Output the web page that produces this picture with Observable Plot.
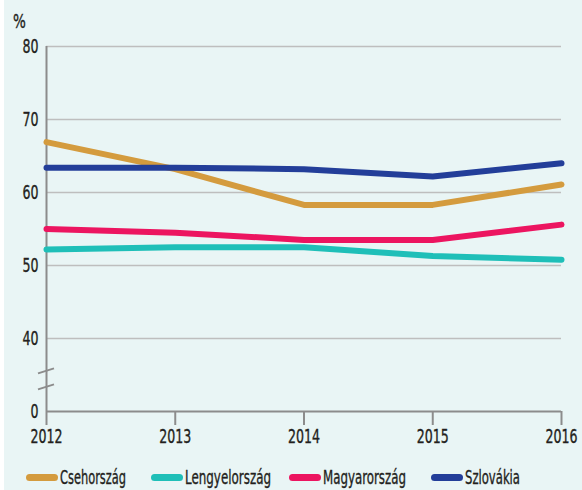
<!DOCTYPE html>
<html><head><meta charset="utf-8">
<script src="https://cdn.jsdelivr.net/npm/d3@7"></script>
<script src="https://cdn.jsdelivr.net/npm/@observablehq/plot@0.6"></script>
<style>
html,body{margin:0;padding:0;background:#fff;}
#wrap{position:absolute;left:4px;top:0;width:578px;height:490px;background:#E9F5F5;font-family:"DejaVu Sans Condensed","Liberation Sans Narrow",sans-serif;color:#231f20;}
#unit{position:absolute;left:9px;top:9px;font-size:20px;transform:scaleX(0.75);transform-origin:0 50%;-webkit-text-stroke:0.35px #231f20;}
#chart{position:absolute;left:0;top:0;}
#chart svg g[aria-label$="tick label"] text{stroke:#231f20;stroke-width:0.35px;}
#legend{position:absolute;left:0;top:464px;width:578px;height:26px;font-size:20px;}
.item{position:absolute;top:0;display:flex;align-items:center;height:26px;white-space:nowrap;}
.sw{width:32px;height:7px;border-radius:3.5px;margin-right:2px;flex:none;}
.lt{display:inline-block;transform-origin:0 50%;-webkit-text-stroke:0.35px #231f20;}
</style></head>
<body>
<div id="wrap"><div id="chart"></div><div id="unit">%</div><div id="legend"></div></div>
<script>
const years = [2012, 2013, 2014, 2015, 2016];
const seriesNames = ["Csehország", "Lengyelország", "Magyarország", "Szlovákia"];
const cseh = [66.9, 63.2, 58.3, 58.3, 61.1];
const lengyel = [52.2, 52.5, 52.5, 51.3, 50.8];
const magyar = [55.0, 54.5, 53.5, 53.5, 55.6];
const szlovak = [63.4, 63.4, 63.2, 62.2, 64.0];
const colors = ["#D49B3E", "#1FBFB8", "#EC1560", "#233E99"];
const yTicks = [30, 40, 50, 60, 70, 80];      // 30 is the broken-axis position shown as "0"
const yTickLabels = ["0", "40", "50", "60", "70", "80"];
const gridVals = [40, 50, 60, 70, 80];
const breakVals = [35.5, 33.3];
const legendLeft = [22, 147, 285, 427];
const legendTextWidth = [66, 86, 83, 55];

const values = [cseh, lengyel, magyar, szlovak];
const data = [];
seriesNames.forEach((s, i) => years.forEach((y, j) => data.push({series: s, year: y, value: values[i][j]})));

const axisGray = "#8C8C8C";
const breakMark = (index, scales, values, dims) => {
  const g = d3.create("svg:g");
  const x0 = scales.x(years[0]);
  for (const v of breakVals) {
    const y = scales.y(v);
    g.append("line").attr("x1", x0 - 8).attr("y1", y + 2.5).attr("x2", x0 + 8).attr("y2", y - 2.5)
      .attr("stroke", axisGray).attr("stroke-width", 2);
  }
  return g.node();
};

const chart = Plot.plot({
  width: 578, height: 452,
  marginLeft: 42, marginRight: 21, marginTop: 46, marginBottom: 41,
  style: {background: "transparent", fontFamily: "'DejaVu Sans Condensed','Liberation Sans Narrow',sans-serif", fontSize: "20px", color: "#231f20"},
  x: {type: "linear", domain: [years[0], years[years.length - 1]], label: null},
  y: {domain: [30, 80], label: null},
  color: {domain: seriesNames, range: colors},
  marks: [
    Plot.ruleY(gridVals, {y: d => d, x1: () => years[0], x2: () => years[years.length - 1], stroke: "#BEBEBE", strokeWidth: 1.5}),
    Plot.ruleX([years[0]], {x: d => d, y1: () => 30, y2: () => 80, stroke: axisGray, strokeWidth: 2}),
    Plot.ruleY([30], {y: d => d, x1: () => years[0], x2: () => years[years.length - 1], stroke: axisGray, strokeWidth: 2}),
    Plot.axisX({ticks: years, tickFormat: d => String(d), tickSize: 14, tickPadding: 3, stroke: axisGray, strokeWidth: 2, fontSize: 20, label: null}),
    Plot.axisY({ticks: yTicks, tickFormat: d => yTickLabels[yTicks.indexOf(d)], tickSize: 0, tickPadding: 8, fontSize: 20, label: null}),
    breakMark,
    Plot.line(data, {x: "year", y: "value", z: "series", stroke: "series", strokeWidth: 6, strokeLinecap: "round", strokeLinejoin: "round"})
  ]
});
// condense tick labels horizontally around their anchors
chart.querySelectorAll('g[aria-label$="tick label"] text').forEach(t => {
  const tr = t.getAttribute("transform");
  if (tr) {
    t.setAttribute("transform", tr + " scale(0.7,1)");
  } else {
    const x = +t.getAttribute("x") || 0, y = +t.getAttribute("y") || 0;
    t.removeAttribute("x"); t.removeAttribute("y");
    t.setAttribute("transform", `translate(${x},${y}) scale(0.7,1)`);
  }
});
document.getElementById("chart").appendChild(chart);

const legend = document.getElementById("legend");
seriesNames.forEach((s, i) => {
  const it = document.createElement("div");
  it.className = "item";
  it.style.left = legendLeft[i] + "px";
  const sw = document.createElement("span");
  sw.className = "sw"; sw.style.background = colors[i];
  const t = document.createElement("span"); t.className = "lt"; t.textContent = s;
  it.appendChild(sw); it.appendChild(t);
  legend.appendChild(it);
  const w = t.getBoundingClientRect().width;
  if (w > 0) t.style.transform = `scaleX(${legendTextWidth[i] / w})`;
});
</script>
</body></html>
